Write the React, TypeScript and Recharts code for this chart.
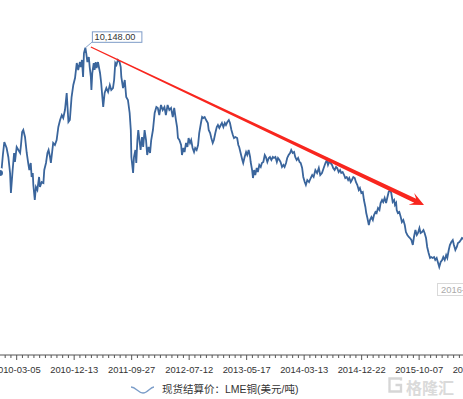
import React from 'react';
import { LineChart, Line, XAxis, YAxis, ReferenceLine, ReferenceDot } from 'recharts';

// ---- data ----
const tickLabels = ['2010-03-05', '2010-12-13', '2011-09-27', '2012-07-12', '2013-05-17', '2014-03-13', '2014-12-22', '2015-10-07', '2016-07-26'];
const TICK_STEP = 200; // trading days between labelled ticks
const MINOR_STEP = 20;

// trading-day offset from 2010-03-05
const days = [
  -58, -52, -48, -43, -35, -29, -23, -20, -14, -9, -6, 0, 6, 12, 15, 19, 23, 29, 35, 40, 44, 49, 52, 56, 58, 63, 67, 72, 78, 81, 87, 93, 96,
  102, 107, 111, 116, 119, 123, 127, 133, 139, 145, 151, 157, 162, 168, 174, 180, 185, 191, 197, 203, 209, 214, 220, 223, 227, 231, 234, 239,
  242, 246, 251, 254, 258, 260, 263, 268, 271, 275, 278, 283, 286, 290, 294, 298, 301, 306, 312, 318, 324, 329, 335, 339, 343, 347, 352, 358,
  362, 364, 370, 376, 381, 387, 393, 397, 399, 405, 408, 413, 416, 420, 423, 427, 431, 436, 440, 445, 450, 454, 459, 464, 468, 474, 480, 486,
  491, 496, 502, 508, 514, 519, 525, 531, 537, 543, 548, 554, 558, 561, 566, 572, 575, 580, 584, 589, 594, 598, 603, 607, 612, 617, 621, 626,
  631, 635, 641, 645, 649, 654, 659, 665, 668, 673, 677, 682, 686, 691, 696, 700, 705, 710, 714, 719, 724, 728, 733, 738, 742, 747, 752, 756,
  761, 767, 771, 774, 779, 785, 788, 793, 798, 802, 807, 812, 814, 819, 822, 826, 830, 835, 839, 844, 849, 853, 858, 863, 867, 872, 877, 881,
  886, 891, 895, 900, 905, 909, 914, 918, 923, 928, 932, 937, 941, 946, 951, 955, 960, 965, 969, 974, 979, 984, 988, 993, 997, 1002, 1006,
  1011, 1017, 1023, 1028, 1033, 1039, 1045, 1051, 1056, 1062, 1068, 1074, 1079, 1083, 1087, 1092, 1097, 1101, 1106, 1111, 1115, 1120, 1125,
  1129, 1134, 1139, 1143, 1148, 1153, 1157, 1162, 1166, 1171, 1176, 1180, 1185, 1190, 1194, 1199, 1204, 1208, 1213, 1216, 1220, 1225, 1229,
  1234, 1239, 1243, 1248, 1252, 1257, 1262, 1266, 1271, 1275, 1280, 1285, 1289, 1294, 1299, 1303, 1308, 1313, 1316, 1320, 1322, 1326, 1331,
  1336, 1340, 1345, 1350, 1354, 1359, 1364, 1368, 1373, 1378, 1382, 1387, 1392, 1396, 1401, 1405, 1410, 1415, 1419, 1424, 1428, 1433, 1438,
  1442, 1447, 1452, 1456, 1461, 1466, 1470, 1475, 1480, 1484, 1489, 1494, 1498, 1503, 1507, 1512, 1517, 1521, 1526, 1531, 1535, 1540, 1545,
  1549, 1560,
];

// LME copper cash settlement, USD/t
const prices = [
  6828, 6960, 7305, 7650, 7491, 7252, 6828, 6297, 6907, 7358, 7119, 7517, 7438, 7358, 7570, 7915, 7968, 7782, 7358, 7093, 6907, 7093, 6722,
  6828, 6509, 6111, 6456, 6377, 6722, 6456, 6589, 6562, 6907,
  7093, 7358, 7438, 7252, 7093, 7358, 7623, 7570, 7703, 8048, 8233, 8366, 8286, 8499, 8950, 8180, 8233, 8843, 9162, 9347, 9745, 9560, 9771,
  9639, 9825, 9374, 10010, 10148,
  10010, 9771, 9904, 9639, 9374, 9029, 9480, 9745, 9560, 9771, 9613, 9771, 9639, 9480, 9215, 8843, 8578, 8950, 9082, 8976, 9162, 9029, 9082,
  9294, 9745, 9692, 9825, 9771,
  9639, 9374, 9082, 9294, 8843, 8764, 8419, 7968, 7252, 6828, 7252, 7438, 7093, 7703, 7968, 7703, 7438, 7782, 7517, 7968, 7703, 7305, 7517,
  7358, 7703, 7968, 8419, 8578,
  8552, 8366, 8631, 8499, 8578, 8366, 8631, 8499, 8552, 8313, 8552, 8233, 8048, 7756, 7703, 7570, 7305, 7491, 7385, 7623, 7517, 7756, 7623,
  7703, 7491, 7385, 7491, 7438,
  7570, 7888, 8154, 8313, 8286, 8313, 8233, 8154, 7968, 7888, 7756, 7623, 7703, 7888, 8048, 8101, 8021, 8101, 8154, 8048, 8154, 8101, 8180,
  8233, 8154, 7968, 7835, 7756,
  7782, 7756, 7570, 7517, 7358, 7172, 7093, 7252, 7385, 7305, 7438, 7252, 7119, 6907, 6695, 6907, 6775, 6960, 6854, 7040, 6987, 7093, 7119,
  7305, 7252, 7119, 7226, 7252,
  7172, 7252, 7226, 7252, 7119, 7226, 7172, 7119, 6987, 7040, 6987, 7093, 7226, 7305, 7358, 7438, 7358, 7385, 7252, 7172, 7226, 7119, 7093,
  6960, 6722, 6589, 6509,
  6642, 6589, 6695, 6775, 6722, 6907, 6828, 6960, 6775, 6828, 6960, 7093, 7172, 7040, 7119, 7093, 7040, 6960, 6907, 6987, 6960, 6854, 6907,
  6828, 6854, 6775, 6695, 6722, 6642, 6695, 6589, 6642, 6722, 6695, 6589, 6509, 6377, 6430, 6297, 6324, 6111, 5926, 5766, 5634, 5448, 5581,
  5660, 5581, 5713, 5793, 5766, 5899, 5846, 6032, 6111, 6058, 6165, 6032, 6165, 6324, 6377, 6297, 6058, 6111, 5979, 6032, 5846, 5766, 5793,
  5660, 5528, 5581, 5448, 5262, 5183, 5130, 5103, 5050, 4918, 5130, 5315, 5183, 5236, 5368, 5236, 5262, 5315, 5236, 5103, 4865, 4706, 4573,
  4599, 4573, 4599, 4520, 4573, 4440, 4334, 4467, 4520, 4599, 4520, 4653, 4573, 4785, 4918, 4997, 5050, 4918, 4785, 4865, 4970, 4997, 5050,
  5103, 5050,
];

const seriesName = '现货结算价：LME铜(美元/吨)';
const peak = { day: 239, value: 10148, label: '10,148.00' };
const trendStart = { day: 258, value: 10170 };
const trendEnd = { day: 1417, value: 5979 };
const cursorLabel = '2016-03-31';
const watermark = '格隆汇';

const data = days.map((d, i) => ({ day: d, price: prices[i] }));
const axisTicks: number[] = [];
for (let t = -40; t <= 1880; t += MINOR_STEP) axisTicks.push(t);

const LINE_COLOR = '#3a659c';
const LATIN = '"Liberation Sans", Arial, "Noto Sans CJK SC", sans-serif';

const AxisTick = (props: any) => {
  const { x, y, payload } = props;
  const v = payload.value;
  const major = v % TICK_STEP === 0;
  return (
    <g>
      <line x1={x} x2={x} y1={y} y2={y + (major ? 5 : 3)} stroke="#555" strokeWidth={1} />
      {major && (
        <text x={x} y={y + 17.5} textAnchor="middle" fontSize={9.4} fill="#333" fontFamily={LATIN}>
          {tickLabels[v / TICK_STEP]}
        </text>
      )}
    </g>
  );
};

const ArrowShape = (p: any) => {
  const { x1, y1, x2, y2 } = p;
  if ([x1, y1, x2, y2].some((v) => typeof v !== 'number' || isNaN(v))) return <g />;
  const dx = x2 - x1;
  const dy = y2 - y1;
  const len = Math.hypot(dx, dy);
  const ux = dx / len;
  const uy = dy / len;
  const nx = -uy;
  const ny = ux;
  const headL = 14;
  const headW = 6.5;
  const w0 = 1.2;
  const w1 = 4.6;
  const bx = x2 - ux * headL;
  const by = y2 - uy * headL;
  const sx = x2 - ux * headL * 0.7;
  const sy = y2 - uy * headL * 0.7;
  const pts = [
    [x1 + (nx * w0) / 2, y1 + (ny * w0) / 2],
    [sx + (nx * w1) / 2, sy + (ny * w1) / 2],
    [bx + nx * headW, by + ny * headW],
    [x2, y2],
    [bx - nx * headW, by - ny * headW],
    [sx - (nx * w1) / 2, sy - (ny * w1) / 2],
    [x1 - (nx * w0) / 2, y1 - (ny * w0) / 2],
  ];
  return <polygon points={pts.map((q) => q.join(',')).join(' ')} fill="#f8261e" />;
};

const PeakShape = (p: any) => {
  const { cx, cy } = p;
  if (typeof cx !== 'number' || typeof cy !== 'number') return <g />;
  return (
    <g>
      <line x1={cx} y1={cy} x2={cx + 7} y2={cy - 6} stroke="#6d8fbf" strokeWidth={0.8} />
      <rect x={cx + 7} y={cy - 16} width={49.5} height={10.5} fill="#fff" stroke="#7e9cc8" strokeWidth={1} />
      <text x={cx + 9.2} y={cy - 7.6} fontSize={9.2} fill="#333" fontFamily={LATIN}>
        {peak.label}
      </text>
    </g>
  );
};

export default function App() {
  return (
    <div style={{ position: 'absolute', left: 0, top: 0, width: 463, height: 399, overflow: 'hidden', background: '#fff' }}>
      <div style={{ position: 'absolute', left: 0, top: -30 }}>
        <LineChart width={560} height={440} data={data} margin={{ top: 8, right: 0, bottom: 25, left: 0 }}>
          <XAxis
            dataKey="day"
            type="number"
            domain={[-58, 1890]}
            allowDataOverflow
            ticks={axisTicks}
            interval={0}
            tickSize={0}
            tickMargin={0}
            tickLine={false}
            axisLine={{ stroke: '#555', strokeWidth: 1 }}
            tick={<AxisTick />}
            height={30}
          />
          <YAxis hide type="number" domain={[2000, 12000]} allowDataOverflow />
          <Line
            type="linear"
            dataKey="price"
            name={seriesName}
            stroke={LINE_COLOR}
            strokeWidth={1.8}
            dot={false}
            isAnimationActive={false}
          />
          <ReferenceLine
            segment={[
              { x: trendStart.day, y: trendStart.value },
              { x: trendEnd.day, y: trendEnd.value },
            ]}
            shape={ArrowShape}
            ifOverflow="visible"
          />
          <ReferenceDot x={peak.day} y={peak.value} r={0} shape={PeakShape} ifOverflow="visible" />
        </LineChart>
      </div>
      {/* legend */}
      <div style={{ position: 'absolute', left: 130, top: 382, display: 'flex', alignItems: 'center', height: 14 }}>
        <svg width={25} height={12}>
          <path d="M1,4 C6,4 8,10 13,10 C18,10 20,4 24,4" fill="none" stroke="#7b9dc9" strokeWidth={1.3} />
        </svg>
        <span
          style={{ marginLeft: 7, fontSize: 10.5, color: '#333', fontFamily: LATIN, whiteSpace: 'nowrap', lineHeight: '14px' }}
        >
          {seriesName}
        </span>
      </div>
      {/* cursor date label */}
      <div
        style={{
          position: 'absolute',
          left: 437,
          top: 283,
          height: 11,
          lineHeight: '11px',
          padding: '0 3px',
          border: '1px solid #d9d9d9',
          background: '#fff',
          color: '#aaa',
          fontSize: 9.4,
          fontFamily: LATIN,
          whiteSpace: 'nowrap',
        }}
      >
        {cursorLabel}
      </div>
      {/* watermark */}
      <div style={{ position: 'absolute', left: 387, top: 377, display: 'flex', alignItems: 'center', opacity: 0.9, height: 16 }}>
        <svg width={17} height={16}>
          <path d="M14,3.5 L14,1.5 L2.5,1.5 L2.5,14.5 L14,14.5 L14,8 L8.5,8" fill="none" stroke="#d2d2d2" strokeWidth={2.3} />
        </svg>
        <span
          style={{
            marginLeft: 2,
            fontSize: 16,
            fontWeight: 700,
            color: '#d6d6d6',
            fontFamily: '"Noto Sans CJK SC", sans-serif',
            lineHeight: '16px',
            position: 'relative',
            top: 2,
          }}
        >
          {watermark}
        </span>
      </div>
    </div>
  );
}
